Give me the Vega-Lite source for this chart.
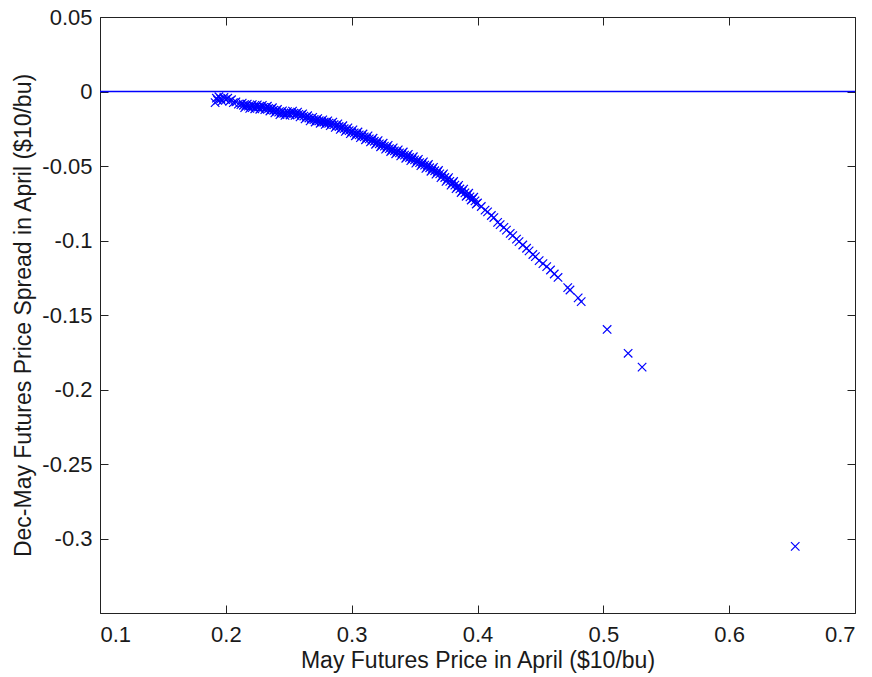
{
  "$schema": "https://vega.github.io/schema/vega-lite/v6.json",
  "width": 755,
  "height": 596,
  "autosize": {"type": "none"},
  "padding": {"left": 100, "top": 17, "right": 17, "bottom": 64},
  "background": "white",
  "config": {
    "view": {"stroke": "#222222", "strokeWidth": 1},
    "font": "Liberation Sans",
    "axis": {
      "grid": false,
      "domain": false,
      "tickColor": "#222222",
      "tickSize": -8,
      "tickWidth": 1,
      "labelFont": "Liberation Sans",
      "labelFontSize": 22,
      "labelColor": "#1a1a1a",
      "titleFont": "Liberation Sans",
      "titleFontSize": 23,
      "titleFontWeight": "normal",
      "titleColor": "#1a1a1a"
    }
  },
  "datasets": {
    "baseline": [{"level": 0}]
  },
  "data": {
    "values": [
      {"price": 0.1915, "spread": -0.0075}, {"price": 0.1925, "spread": -0.0045}, {"price": 0.1935, "spread": -0.006},
      {"price": 0.1945, "spread": -0.0035}, {"price": 0.196, "spread": -0.005}, {"price": 0.197, "spread": -0.0065},
      {"price": 0.1985, "spread": -0.004}, {"price": 0.2, "spread": -0.0055}, {"price": 0.2015, "spread": -0.0045},
      {"price": 0.203, "spread": -0.0065}, {"price": 0.2045, "spread": -0.0055}, {"price": 0.206, "spread": -0.0075},
      {"price": 0.208, "spread": -0.007}, {"price": 0.21, "spread": -0.0085},
      {"price": 0.212, "spread": -0.0088}, {"price": 0.214, "spread": -0.0092}, {"price": 0.216, "spread": -0.0096},
      {"price": 0.218, "spread": -0.0098}, {"price": 0.22, "spread": -0.01}, {"price": 0.222, "spread": -0.0101},
      {"price": 0.224, "spread": -0.0102}, {"price": 0.226, "spread": -0.0104}, {"price": 0.228, "spread": -0.0105},
      {"price": 0.23, "spread": -0.0106}, {"price": 0.232, "spread": -0.011}, {"price": 0.234, "spread": -0.0114},
      {"price": 0.236, "spread": -0.012}, {"price": 0.238, "spread": -0.0126}, {"price": 0.24, "spread": -0.0132},
      {"price": 0.242, "spread": -0.0138}, {"price": 0.244, "spread": -0.0143}, {"price": 0.246, "spread": -0.0146},
      {"price": 0.248, "spread": -0.0148}, {"price": 0.25, "spread": -0.0146}, {"price": 0.252, "spread": -0.0144},
      {"price": 0.254, "spread": -0.0145}, {"price": 0.256, "spread": -0.0149}, {"price": 0.258, "spread": -0.0153},
      {"price": 0.26, "spread": -0.0158}, {"price": 0.262, "spread": -0.0165}, {"price": 0.264, "spread": -0.0172},
      {"price": 0.266, "spread": -0.0178}, {"price": 0.268, "spread": -0.0184}, {"price": 0.27, "spread": -0.0189},
      {"price": 0.272, "spread": -0.0193}, {"price": 0.274, "spread": -0.0197}, {"price": 0.276, "spread": -0.0202},
      {"price": 0.278, "spread": -0.0205}, {"price": 0.28, "spread": -0.0208}, {"price": 0.282, "spread": -0.0212},
      {"price": 0.284, "spread": -0.0216}, {"price": 0.286, "spread": -0.0222}, {"price": 0.288, "spread": -0.0229},
      {"price": 0.29, "spread": -0.0235}, {"price": 0.292, "spread": -0.0242}, {"price": 0.294, "spread": -0.0249},
      {"price": 0.296, "spread": -0.0256}, {"price": 0.298, "spread": -0.0263}, {"price": 0.3, "spread": -0.0271},
      {"price": 0.302, "spread": -0.0278}, {"price": 0.304, "spread": -0.0285}, {"price": 0.306, "spread": -0.0291},
      {"price": 0.308, "spread": -0.0298}, {"price": 0.31, "spread": -0.0304}, {"price": 0.312, "spread": -0.0311},
      {"price": 0.314, "spread": -0.0318}, {"price": 0.316, "spread": -0.0326}, {"price": 0.318, "spread": -0.0334},
      {"price": 0.32, "spread": -0.0343}, {"price": 0.322, "spread": -0.0351}, {"price": 0.324, "spread": -0.0359},
      {"price": 0.326, "spread": -0.0367}, {"price": 0.328, "spread": -0.0374}, {"price": 0.33, "spread": -0.0383},
      {"price": 0.332, "spread": -0.0391}, {"price": 0.334, "spread": -0.0398}, {"price": 0.336, "spread": -0.0405},
      {"price": 0.338, "spread": -0.0412}, {"price": 0.34, "spread": -0.0419}, {"price": 0.342, "spread": -0.0427},
      {"price": 0.344, "spread": -0.0435}, {"price": 0.346, "spread": -0.0443}, {"price": 0.348, "spread": -0.0451},
      {"price": 0.35, "spread": -0.0459}, {"price": 0.352, "spread": -0.0468}, {"price": 0.354, "spread": -0.0477},
      {"price": 0.356, "spread": -0.0485}, {"price": 0.358, "spread": -0.0494}, {"price": 0.36, "spread": -0.0503},
      {"price": 0.362, "spread": -0.0512}, {"price": 0.364, "spread": -0.0522}, {"price": 0.366, "spread": -0.0532},
      {"price": 0.368, "spread": -0.0542}, {"price": 0.37, "spread": -0.0553}, {"price": 0.372, "spread": -0.0565},
      {"price": 0.374, "spread": -0.0577}, {"price": 0.376, "spread": -0.059}, {"price": 0.378, "spread": -0.0603},
      {"price": 0.38, "spread": -0.0616}, {"price": 0.382, "spread": -0.0628}, {"price": 0.384, "spread": -0.0641},
      {"price": 0.386, "spread": -0.0654}, {"price": 0.388, "spread": -0.0667}, {"price": 0.39, "spread": -0.068},
      {"price": 0.392, "spread": -0.0694}, {"price": 0.394, "spread": -0.0707}, {"price": 0.396, "spread": -0.0721},
      {"price": 0.398, "spread": -0.0734}, {"price": 0.4, "spread": -0.0748},
      {"price": 0.213, "spread": -0.0078}, {"price": 0.215, "spread": -0.0108}, {"price": 0.217, "spread": -0.0085},
      {"price": 0.219, "spread": -0.0113}, {"price": 0.221, "spread": -0.0088}, {"price": 0.223, "spread": -0.0116},
      {"price": 0.225, "spread": -0.009}, {"price": 0.227, "spread": -0.0119}, {"price": 0.229, "spread": -0.0093},
      {"price": 0.231, "spread": -0.0122}, {"price": 0.233, "spread": -0.0099}, {"price": 0.235, "spread": -0.0131},
      {"price": 0.237, "spread": -0.0109}, {"price": 0.239, "spread": -0.0143}, {"price": 0.241, "spread": -0.0121},
      {"price": 0.243, "spread": -0.0155}, {"price": 0.245, "spread": -0.013}, {"price": 0.247, "spread": -0.016},
      {"price": 0.249, "spread": -0.0135}, {"price": 0.251, "spread": -0.0158}, {"price": 0.253, "spread": -0.0132},
      {"price": 0.255, "spread": -0.016}, {"price": 0.257, "spread": -0.0138}, {"price": 0.259, "spread": -0.017},
      {"price": 0.261, "spread": -0.015}, {"price": 0.263, "spread": -0.0184}, {"price": 0.265, "spread": -0.0163},
      {"price": 0.267, "spread": -0.0197}, {"price": 0.269, "spread": -0.0174}, {"price": 0.271, "spread": -0.0205},
      {"price": 0.273, "spread": -0.0182}, {"price": 0.275, "spread": -0.0213}, {"price": 0.277, "spread": -0.019},
      {"price": 0.279, "spread": -0.0221}, {"price": 0.281, "spread": -0.0197}, {"price": 0.283, "spread": -0.0229},
      {"price": 0.285, "spread": -0.0205}, {"price": 0.287, "spread": -0.0241}, {"price": 0.289, "spread": -0.0217},
      {"price": 0.291, "spread": -0.0254}, {"price": 0.293, "spread": -0.023}, {"price": 0.295, "spread": -0.0268},
      {"price": 0.297, "spread": -0.0244}, {"price": 0.299, "spread": -0.0283}, {"price": 0.301, "spread": -0.0258},
      {"price": 0.303, "spread": -0.0297}, {"price": 0.305, "spread": -0.0272}, {"price": 0.307, "spread": -0.031},
      {"price": 0.309, "spread": -0.0285}, {"price": 0.311, "spread": -0.0324}, {"price": 0.313, "spread": -0.0298},
      {"price": 0.315, "spread": -0.0338}, {"price": 0.317, "spread": -0.0314}, {"price": 0.319, "spread": -0.0354},
      {"price": 0.321, "spread": -0.033}, {"price": 0.323, "spread": -0.0371}, {"price": 0.325, "spread": -0.0347},
      {"price": 0.327, "spread": -0.0387}, {"price": 0.329, "spread": -0.0362}, {"price": 0.331, "spread": -0.0403},
      {"price": 0.333, "spread": -0.0378}, {"price": 0.335, "spread": -0.0418}, {"price": 0.337, "spread": -0.0392},
      {"price": 0.339, "spread": -0.0432}, {"price": 0.341, "spread": -0.0406}, {"price": 0.343, "spread": -0.0448},
      {"price": 0.345, "spread": -0.0422}, {"price": 0.347, "spread": -0.0464}, {"price": 0.349, "spread": -0.0438},
      {"price": 0.351, "spread": -0.0481}, {"price": 0.353, "spread": -0.0455}, {"price": 0.355, "spread": -0.0498},
      {"price": 0.357, "spread": -0.0472}, {"price": 0.359, "spread": -0.0516}, {"price": 0.361, "spread": -0.049},
      {"price": 0.363, "spread": -0.0535}, {"price": 0.365, "spread": -0.0509}, {"price": 0.367, "spread": -0.0555},
      {"price": 0.369, "spread": -0.053}, {"price": 0.371, "spread": -0.0578}, {"price": 0.373, "spread": -0.0553},
      {"price": 0.375, "spread": -0.0603}, {"price": 0.377, "spread": -0.0578}, {"price": 0.379, "spread": -0.0628},
      {"price": 0.381, "spread": -0.0604}, {"price": 0.383, "spread": -0.0652}, {"price": 0.385, "spread": -0.063},
      {"price": 0.387, "spread": -0.0678}, {"price": 0.389, "spread": -0.0655}, {"price": 0.391, "spread": -0.0703},
      {"price": 0.393, "spread": -0.0683}, {"price": 0.395, "spread": -0.0728}, {"price": 0.397, "spread": -0.071},
      {"price": 0.399, "spread": -0.0755},
      {"price": 0.403, "spread": -0.0772}, {"price": 0.406, "spread": -0.0796}, {"price": 0.408, "spread": -0.0808},
      {"price": 0.411, "spread": -0.0832}, {"price": 0.413, "spread": -0.0846}, {"price": 0.416, "spread": -0.0878},
      {"price": 0.418, "spread": -0.0893}, {"price": 0.421, "spread": -0.0912}, {"price": 0.423, "spread": -0.093},
      {"price": 0.426, "spread": -0.0952}, {"price": 0.428, "spread": -0.0967}, {"price": 0.431, "spread": -0.0991},
      {"price": 0.433, "spread": -0.1008}, {"price": 0.436, "spread": -0.103}, {"price": 0.439, "spread": -0.1052},
      {"price": 0.441, "spread": -0.107}, {"price": 0.444, "spread": -0.1094}, {"price": 0.446, "spread": -0.1108},
      {"price": 0.449, "spread": -0.1135}, {"price": 0.452, "spread": -0.1155}, {"price": 0.455, "spread": -0.1175},
      {"price": 0.458, "spread": -0.1198}, {"price": 0.461, "spread": -0.1225}, {"price": 0.464, "spread": -0.1248},
      {"price": 0.4717, "spread": -0.1316}, {"price": 0.4735, "spread": -0.1332}, {"price": 0.48, "spread": -0.1385},
      {"price": 0.4824, "spread": -0.141},
      {"price": 0.503, "spread": -0.1597}, {"price": 0.5197, "spread": -0.1757}, {"price": 0.5308, "spread": -0.185},
      {"price": 0.6525, "spread": -0.3053}
    ]
  },
  "resolve": {"axis": {"x": "independent", "y": "independent"}},
  "layer": [
    {
      "mark": {"type": "point", "shape": "M-1,-1L1,1M-1,1L1,-1", "size": 72, "filled": false, "stroke": "#0000ff", "strokeWidth": 1.2, "opacity": 1},
      "encoding": {
        "x": {
          "field": "price", "type": "quantitative",
          "scale": {"domain": [0.1, 0.7], "nice": false, "zero": false},
          "axis": {"orient": "bottom", "values": [0.1, 0.2, 0.3, 0.4, 0.5, 0.6, 0.7], "format": "~g", "labelPadding": 19, "titlePadding": 4, "title": "May Futures Price in April ($10/bu)"}
        },
        "y": {
          "field": "spread", "type": "quantitative",
          "scale": {"domain": [-0.35, 0.05], "nice": false, "zero": false},
          "axis": {"orient": "left", "values": [0.05, 0, -0.05, -0.1, -0.15, -0.2, -0.25, -0.3, -0.35], "labelExpr": "datum.value < -0.34 ? '' : (datum.value < 0 ? '-' + format(-datum.value, '~g') : format(datum.value, '~g'))", "labelPadding": 16, "titlePadding": 6, "title": "Dec-May Futures Price Spread in April ($10/bu)"}
        }
      }
    },
    {
      "mark": {"type": "point", "opacity": 0},
      "encoding": {
        "x": {
          "field": "price", "type": "quantitative",
          "scale": {"domain": [0.1, 0.7], "nice": false, "zero": false},
          "axis": {"orient": "top", "values": [0.1, 0.2, 0.3, 0.4, 0.5, 0.6, 0.7], "labels": false, "title": null}
        },
        "y": {
          "field": "spread", "type": "quantitative",
          "scale": {"domain": [-0.35, 0.05], "nice": false, "zero": false},
          "axis": {"orient": "right", "values": [0.05, 0, -0.05, -0.1, -0.15, -0.2, -0.25, -0.3, -0.35], "labels": false, "title": null}
        }
      }
    },
    {
      "data": {"name": "baseline"},
      "mark": {"type": "rule", "stroke": "#0000ff", "strokeWidth": 1.6},
      "encoding": {
        "y": {"field": "level", "type": "quantitative", "axis": null}
      }
    }
  ]
}
